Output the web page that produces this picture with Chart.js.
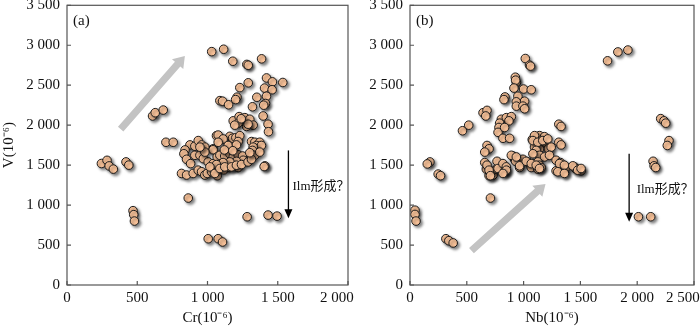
<!DOCTYPE html>
<html>
<head>
<meta charset="utf-8">
<script src="https://cdn.jsdelivr.net/npm/chart.js@4/dist/chart.umd.min.js"></script>
<style>
  html, body { margin: 0; padding: 0; background: #fff; }
  body { width: 700px; height: 328px; position: relative; overflow: hidden; }
  .panel { position: absolute; top: 0; height: 328px; }
  #boxA { left: 0; width: 360px; }
  #boxB { left: 350px; width: 350px; }
</style>
</head>
<body>
<div class="panel" id="boxA"><canvas id="chartA"></canvas></div>
<div class="panel" id="boxB"><canvas id="chartB"></canvas></div>
<script>
// panel (a): Cr vs V, both 10^-6
const crValues = [
  1030, 1115, 1180, 1280, 1290, 1385, 1290, 1230, 1210, 1200, 1088, 1107, 1150, 1320, 1351,
  1420, 1462, 1406, 1460, 1536, 1420, 1413, 1400, 1396, 1431, 1434,
  609, 628, 685, 704, 756,
  1183, 1225, 1266, 1301, 1325, 1278, 1218, 1194, 1289, 1240,
  1159, 1178, 1202, 1230, 1218, 1064, 1076, 1040, 1111,
  1313, 1337, 1372, 1349, 1384, 1325, 1320, 1337, 1372, 1408,
  875, 910, 934, 958, 981, 1040, 840,
  832, 851, 880, 910, 946, 970, 1005, 1040, 1069,
  815, 851, 898, 934, 958, 981, 998, 1029, 1069,
  1116, 1159, 1183, 1218,
  245, 285, 300, 330, 420, 440,
  470, 475, 480, 863,
  1005, 1076, 1107, 1282, 1431, 1495, 1403,
  1088, 1123, 1159, 1183, 1218, 1249, 1254, 1206, 1159, 1111, 1064, 1017, 1052, 1088,
  1123, 1171, 1206, 1242, 1289, 1313, 1301, 981, 946, 1076, 1147, 1206, 1120, 1180
];
const vValuesA = [
  2920, 2950, 2800, 2760, 2750, 2830, 2530, 2470, 2350, 2320, 2307, 2300, 2255, 2230, 2349,
  2591, 2542, 2464, 2443, 2534, 2362, 2271, 2250, 2115, 2012, 1918,
  2115, 2156, 2189, 1786, 1786,
  2054, 2107, 2094, 2074, 2000, 1984, 2025, 2000, 2012, 2080,
  1860, 1836, 1844, 1869, 1795, 1869, 1876, 1704, 1827,
  1795, 1786, 1786, 1746, 1746, 1725, 1684, 1623, 1663, 1491,
  1753, 1737, 1807, 1753, 1725, 1692, 1690,
  1642, 1573, 1519, 1623, 1623, 1581, 1540, 1519, 1602,
  1396, 1376, 1396, 1437, 1417, 1376, 1396, 1417, 1368,
  1441, 1470, 1491, 1470,
  1520, 1560, 1490, 1450, 1540, 1500,
  930, 880, 800, 1088,
  579, 579, 538, 854, 875, 862, 1482,
  1623, 1614, 1642, 1602, 1630, 1614, 1561, 1548, 1540, 1532, 1507, 1478, 1396, 1458,
  1478, 1478, 1499, 1507, 1540, 1573, 1655, 1663, 1725, 1786, 1746, 1753, 1690, 1680
];

// panel (b): Nb vs V
const nbValues = [
  1739, 1830, 1918, 1015, 1052, 1061,
  927, 936, 930, 915, 1000, 1067,
  836, 827, 950, 936, 1009, 936, 994, 1009,
  643, 678, 667, 462, 517,
  804, 848, 892, 871, 789, 783, 775, 818, 877, 833,
  1310, 1330,
  1076, 1140, 1184, 1111, 1155, 1199, 1217, 1140, 1096, 1096, 1082, 1125, 1169, 1213,
  1243, 1111, 1140, 1184, 1228, 1082,
  1310, 1330, 678, 696, 658, 175, 152,
  2207, 2236, 2251, 2280, 2265, 2140, 2149, 2163,
  906, 921, 892,
  994, 1038, 1082, 1125, 1140, 1286, 1324, 1447,
  248, 269, 44, 44, 53, 316, 342, 380, 708,
  672, 696, 731, 760, 833, 965, 1067, 1125, 1155,
  1286, 1359, 1374, 1462, 1506, 2011, 2119,
  658, 678, 696, 708, 766, 775, 818, 848, 833, 930, 936,
  965, 1023, 1067, 1111, 1140, 848, 818,
  1316, 1359, 1301, 1359, 1433, 1476, 1506
];
const vValuesB = [
  2805, 2916, 2940, 2834, 2751, 2739,
  2600, 2534, 2563, 2464, 2452, 2443,
  2353, 2320, 2362, 2292, 2300, 2238, 2238, 2205,
  2156, 2185, 2115, 1930, 2000,
  2074, 2094, 2107, 2054, 2025, 1971, 1910, 1836, 1836, 1971,
  2012, 1984,
  1820, 1869, 1856, 1795, 1766, 1746, 1704, 1704, 1725, 1869, 1807, 1786, 1807, 1828,
  1725, 1684, 1623, 1602, 1623, 1642,
  1786, 1753, 1746, 1704, 1663, 1540, 1515,
  2082, 2054, 2025, 1807, 1746, 1548, 1491, 1470,
  1614, 1573, 1623,
  1573, 1540, 1519, 1540, 1499, 1561, 1532, 1478,
  1388, 1368, 936, 883, 800, 579, 554, 526, 1088,
  1450, 1368, 1376, 1450, 1429, 1470, 1470, 1450, 1470,
  1429, 1408, 1470, 1450, 1429, 854, 854,
  1532, 1499, 1437, 1368, 1548, 1458, 1519, 1478, 1417, 1548, 1602,
  1491, 1548, 1519, 1499, 1458, 1437, 1396,
  1519, 1499, 1417, 1396, 1491, 1437, 1458
];

const xTicksA = [0, 500, 1000, 1500, 2000];
const xTicksB = [0, 500, 1000, 1500, 2000, 2500];
const yTicks = [0, 500, 1000, 1500, 2000, 2500, 3000, 3500];

// annotation anchors in data units: [x, y]
const grayArrowA = [[382, 1950], [839, 2867]];
const grayArrowB = [[541, 431], [1193, 1265]];
const ilmArrowA = [[1576, 1684], [1576, 834]];
const ilmArrowB = [[1929, 1642], [1929, 792]];
const ilmLabelA = [1605, 1236];
const ilmLabelB = [1995, 1195];

const serif = "'Liberation Serif', 'Times New Roman', serif";
const ink = '#111';

function fmt(v) {
  if (v < 1000) return String(v);
  return Math.floor(v / 1000) + ' ' + String(v % 1000).padStart(3, '0');
}

const panelMarks = {
  id: 'panelMarks',
  beforeDatasetsDraw(chart) {
    const ctx = chart.ctx;
    ctx.save();
    ctx.shadowColor = 'rgba(0,0,0,0.5)';
    ctx.shadowBlur = 3;
    ctx.shadowOffsetX = 2;
    ctx.shadowOffsetY = 2;
  },
  afterDatasetsDraw(chart, args, opts) {
    const ctx = chart.ctx;
    ctx.restore();
    const xs = chart.scales.x, ys = chart.scales.y;
    const px = p => [xs.getPixelForValue(p[0]), ys.getPixelForValue(p[1])];

    // gray trend arrow
    const [x1, y1] = px(opts.gray[0]);
    const [x2, y2] = px(opts.gray[1]);
    const len = Math.hypot(x2 - x1, y2 - y1);
    const ux = (x2 - x1) / len, uy = (y2 - y1) / len;
    const nx = -uy, ny = ux;
    const w = 3.6, hw = 7.5, hl = 11;
    const bx = x2 - ux * hl, by = y2 - uy * hl;
    ctx.save();
    ctx.fillStyle = '#c3c3c3';
    ctx.beginPath();
    ctx.moveTo(x1 + nx * w, y1 + ny * w);
    ctx.lineTo(bx + nx * w, by + ny * w);
    ctx.lineTo(bx + nx * hw, by + ny * hw);
    ctx.lineTo(x2, y2);
    ctx.lineTo(bx - nx * hw, by - ny * hw);
    ctx.lineTo(bx - nx * w, by - ny * w);
    ctx.lineTo(x1 - nx * w, y1 - ny * w);
    ctx.closePath();
    ctx.fill();

    // black arrow
    const [ax, ay1] = px(opts.black[0]);
    const [, ay2] = px(opts.black[1]);
    ctx.strokeStyle = '#000';
    ctx.fillStyle = '#000';
    ctx.lineWidth = 1.3;
    ctx.beginPath();
    ctx.moveTo(ax, ay1);
    ctx.lineTo(ax, ay2 - 7);
    ctx.stroke();
    ctx.beginPath();
    ctx.moveTo(ax - 4, ay2 - 9);
    ctx.lineTo(ax + 4, ay2 - 9);
    ctx.lineTo(ax, ay2);
    ctx.closePath();
    ctx.fill();

    const [tx, ty] = px(opts.label);
    ctx.fillStyle = ink;
    ctx.font = "13px 'Liberation Serif', 'Noto Sans CJK SC', serif";
    ctx.textAlign = 'left';
    ctx.textBaseline = 'middle';
    ctx.fillText('Ilm形成？', tx, ty);
    ctx.restore();
  },
  afterDraw(chart, args, opts) {
    const ctx = chart.ctx;
    const a = chart.chartArea;
    ctx.save();
    ctx.strokeStyle = '#555';
    ctx.lineWidth = 1.2;
    ctx.strokeRect(a.left, a.top, a.right - a.left, a.bottom - a.top);
    ctx.beginPath();
    yTicks.forEach(v => {
      const y = chart.scales.y.getPixelForValue(v);
      ctx.moveTo(a.left, y);
      ctx.lineTo(a.left + 4, y);
    });
    chart.scales.x.ticks.forEach(t => {
      const x = chart.scales.x.getPixelForValue(t.value);
      ctx.moveTo(x, a.bottom);
      ctx.lineTo(x, a.bottom - 4);
    });
    ctx.stroke();
    ctx.fillStyle = ink;
    ctx.font = '15px ' + serif;
    ctx.textAlign = 'left';
    ctx.textBaseline = 'middle';
    ctx.fillText(opts.tag, a.left + 6, a.top + 16);
    ctx.restore();
  }
};

function makePanel(id, xs, ys, xMax, xTickVals, yWidth, padRight, yTitle, xTitle, marks) {
  return new Chart(document.getElementById(id), {
    type: 'scatter',
    data: {
      datasets: [{
        data: xs.map((x, i) => ({ x: x, y: ys[i] })),
        pointRadius: 4.3,
        pointHoverRadius: 4.3,
        pointBackgroundColor: '#f9c39a',
        pointBorderColor: '#1a1a1a',
        pointBorderWidth: 1
      }]
    },
    options: {
      responsive: true,
      maintainAspectRatio: false,
      animation: false,
      events: [],
      layout: { padding: { left: 0, right: padRight, top: 1, bottom: 0 } },
      plugins: {
        legend: { display: false },
        tooltip: { enabled: false },
        panelMarks: marks
      },
      scales: {
        x: {
          type: 'linear',
          min: 0,
          max: xMax,
          afterBuildTicks: s => { s.ticks = xTickVals.map(v => ({ value: v })); },
          afterFit: s => { s.height = 43; s.paddingLeft = 0; s.paddingRight = 0; },
          grid: { display: false, drawTicks: false },
          border: { display: false },
          ticks: {
            autoSkip: false, maxRotation: 0, padding: 4,
            color: ink, font: { family: serif, size: 15 },
            // last label sits left of its tick, as in the source figure
            callback: v => v === xMax ? fmt(v) + '\u2002\u2002\u2002' : fmt(v)
          },
          title: {
            display: true, text: xTitle, color: ink,
            font: { family: serif, size: 15 },
            padding: { top: 0, bottom: 1 }
          }
        },
        y: {
          type: 'linear',
          min: 0,
          max: 3500,
          afterBuildTicks: s => { s.ticks = yTicks.map(v => ({ value: v })); },
          afterFit: s => { s.width = yWidth; s.paddingTop = 0; s.paddingBottom = 0; },
          grid: { display: false, drawTicks: false },
          border: { display: false },
          ticks: {
            autoSkip: false, padding: 7,
            color: ink, font: { family: serif, size: 15 },
            callback: v => fmt(v)
          },
          title: {
            display: yTitle !== '', text: yTitle, color: ink,
            font: { family: serif, size: 15 },
            padding: { top: 0, bottom: 0 }
          }
        }
      }
    },
    plugins: [panelMarks]
  });
}

makePanel('chartA', crValues, vValuesA, 2000, xTicksA, 67, 12, 'V(10⁻⁶)', 'Cr(10⁻⁶)',
  { tag: '(a)', gray: grayArrowA, black: ilmArrowA, label: ilmLabelA });
makePanel('chartB', nbValues, vValuesB, 2500, xTicksB, 60, 6, '', 'Nb(10⁻⁶)',
  { tag: '(b)', gray: grayArrowB, black: ilmArrowB, label: ilmLabelB });
</script>
</body>
</html>
